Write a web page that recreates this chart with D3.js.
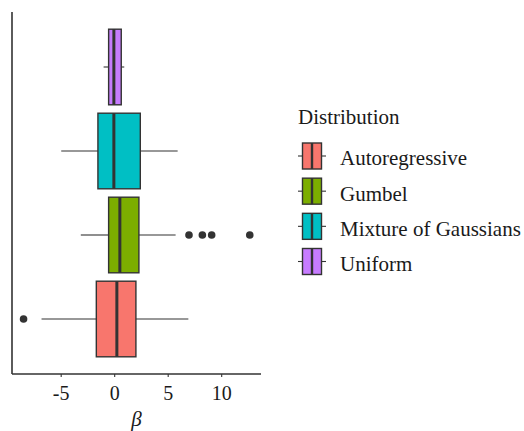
<!DOCTYPE html>
<html>
<head>
<meta charset="utf-8">
<script src="https://cdn.jsdelivr.net/npm/d3@7"></script>
<style>
  html, body { margin: 0; padding: 0; background: #fff; }
  svg { display: block; }
</style>
</head>
<body>
<svg id="chart" width="524" height="431"></svg>
<script>
// Box summaries of the estimated coefficient beta for each distribution
const categories   = ["Autoregressive", "Gumbel", "Mixture of Gaussians", "Uniform"];
const colors       = ["#F8766D", "#7CAE00", "#00BFC4", "#C77CFF"];
const whiskerLow   = [-6.79, -3.12, -4.95, -0.99];
const q1           = [-1.67, -0.52, -1.52, -0.52];
const median       = [0.25, 0.53, -0.03, -0.03];
const q3           = [2.03, 2.31, 2.44, 0.66];
const whiskerHigh  = [6.93, 5.74, 5.93, 0.94];
const outliers     = [[-8.47], [6.99, 8.24, 9.11, 12.67], [], []];
const xTicks       = [-5, 0, 5, 10];

const SERIF = "'Liberation Serif', 'Times New Roman', Times, serif";
const svg = d3.select("#chart");
const panel = { left: 12, right: 261, top: 12, bottom: 374 };

const x = d3.scaleLinear().domain([-9.55, 13.72]).range([panel.left, panel.right]);
const y = d3.scalePoint().domain(categories.slice().reverse())
  .range([16.6, 369.4]).padding(0.6);
const boxH = y.step() * 0.9;
const color = d3.scaleOrdinal().domain(categories).range(colors);

const rows = categories.map((c, i) => ({
  cat: c, lo: whiskerLow[i], q1: q1[i], med: median[i], q3: q3[i],
  hi: whiskerHigh[i], out: outliers[i]
}));

const g = svg.append("g");
const box = g.selectAll("g.box").data(rows).join("g").attr("class", "box");

// whiskers
box.append("line")
  .attr("x1", d => x(d.lo)).attr("x2", d => x(d.q1))
  .attr("y1", d => y(d.cat)).attr("y2", d => y(d.cat))
  .attr("stroke", "#333").attr("stroke-width", 1.1);
box.append("line")
  .attr("x1", d => x(d.q3)).attr("x2", d => x(d.hi))
  .attr("y1", d => y(d.cat)).attr("y2", d => y(d.cat))
  .attr("stroke", "#333").attr("stroke-width", 1.1);

// boxes
box.append("rect")
  .attr("x", d => x(d.q1)).attr("width", d => x(d.q3) - x(d.q1))
  .attr("y", d => y(d.cat) - boxH / 2).attr("height", boxH)
  .attr("fill", d => color(d.cat))
  .attr("stroke", "#333").attr("stroke-width", 1.4);

// medians
box.append("line")
  .attr("x1", d => x(d.med)).attr("x2", d => x(d.med))
  .attr("y1", d => y(d.cat) - boxH / 2).attr("y2", d => y(d.cat) + boxH / 2)
  .attr("stroke", "#333").attr("stroke-width", 3);

// outliers
box.selectAll("circle").data(d => d.out.map(v => ({ v, cat: d.cat }))).join("circle")
  .attr("cx", d => x(d.v)).attr("cy", d => y(d.cat)).attr("r", 3.8)
  .attr("fill", "#333");

// axes
const xAxis = d3.axisBottom(x).tickValues(xTicks).tickSize(3).tickPadding(9)
  .tickFormat(d => String(d));
const xg = svg.append("g").attr("transform", `translate(0,${panel.bottom})`).call(xAxis);
xg.attr("font-family", null).attr("font-size", null);
xg.select(".domain").remove();
xg.selectAll(".tick line").attr("stroke", "#333").attr("stroke-width", 1.1);
xg.selectAll(".tick text")
  .style("font-family", SERIF)
  .style("font-size", "20px").attr("fill", "#1a1a1a");

svg.append("line")
  .attr("x1", panel.left).attr("x2", panel.right)
  .attr("y1", panel.bottom).attr("y2", panel.bottom)
  .attr("stroke", "#333").attr("stroke-width", 1.6);
svg.append("line")
  .attr("x1", panel.left).attr("x2", panel.left)
  .attr("y1", panel.top).attr("y2", panel.bottom)
  .attr("stroke", "#333").attr("stroke-width", 1.6);

svg.append("text")
  .attr("x", (panel.left + panel.right) / 2).attr("y", 426)
  .attr("text-anchor", "middle")
  .style("font-family", SERIF).style("font-size", "21px").style("font-style", "italic")
  .attr("fill", "#1a1a1a")
  .text("β");

// legend
const legend = svg.append("g").attr("transform", "translate(298,0)");
legend.append("text").attr("x", 0).attr("y", 124)
  .style("font-family", SERIF).style("font-size", "21px").attr("fill", "#1a1a1a")
  .text("Distribution");
const keyY = d3.scalePoint().domain(categories).range([156, 261.5]);
const item = legend.selectAll("g.key").data(categories).join("g")
  .attr("class", "key").attr("transform", d => `translate(0,${keyY(d)})`);
item.append("line").attr("x1", 0).attr("x2", 28).attr("y1", 0).attr("y2", 0)
  .attr("stroke", "#333").attr("stroke-width", 1.1);
item.append("rect").attr("x", 4.5).attr("y", -13).attr("width", 19).attr("height", 26)
  .attr("fill", d => color(d)).attr("stroke", "#333").attr("stroke-width", 1.4);
item.append("line").attr("x1", 14).attr("x2", 14).attr("y1", -13).attr("y2", 13)
  .attr("stroke", "#333").attr("stroke-width", 2.4);
item.append("text").attr("x", 42).attr("y", 0).attr("dy", "0.45em")
  .style("font-family", SERIF).style("font-size", "21px").attr("fill", "#1a1a1a")
  .text(d => d);
</script>
</body>
</html>
